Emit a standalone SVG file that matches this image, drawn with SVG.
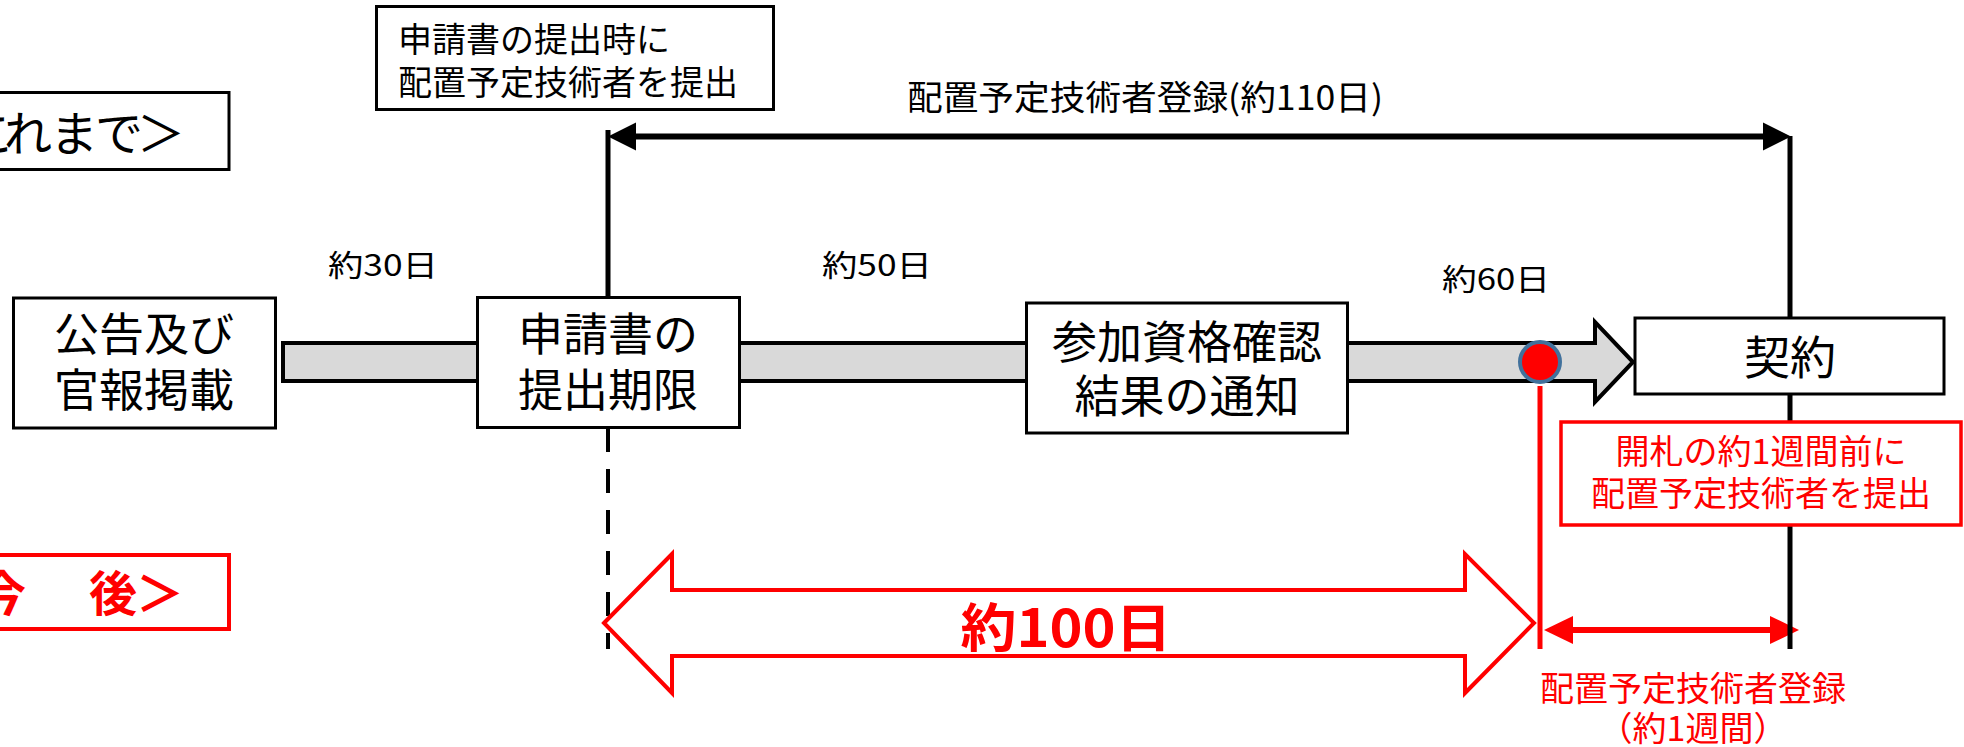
<svg xmlns="http://www.w3.org/2000/svg" width="1964" height="747" viewBox="0 0 1964 747">
<style>
text{font-family:"Noto Sans CJK JP","Noto Sans CJK SC",sans-serif;fill:#000}
.node{fill:#fff;stroke:#000;stroke-width:3}
.redbox{fill:#fff;stroke:#ff0000;stroke-width:3.5}
.big{font-size:45px}
.small{font-size:34px}
.lbl{font-size:30px}
.red{fill:#ff0000}
.bold{font-weight:bold}
.mid{text-anchor:middle}
</style>
<defs>
<marker id="ahB" markerUnits="userSpaceOnUse" markerWidth="30" markerHeight="30" viewBox="0 0 28 30" refX="16" refY="15" orient="auto-start-reverse">
<path d="M0,1 L28,15 L0,29 Z" fill="#000"/>
</marker>
<marker id="ahR" markerUnits="userSpaceOnUse" markerWidth="30" markerHeight="30" viewBox="0 0 29 30" refX="17" refY="15" orient="auto-start-reverse">
<path d="M0,1 L29,15 L0,29 Z" fill="#ff0000"/>
</marker>
</defs>

<g id="connectors">
<!-- main timeline band -->
<path id="band" d="M283,343 H1595 V322 L1633,362 L1595,402 V381 H283 Z" fill="#d9d9d9" stroke="#000" stroke-width="4"/>
<!-- top registration span -->
<path d="M608,130 V298" stroke="#000" stroke-width="5" fill="none"/>
<path d="M620,136.5 H1779" stroke="#000" stroke-width="6" fill="none" marker-start="url(#ahB)" marker-end="url(#ahB)"/>
<path d="M608,428 V649" stroke="#000" stroke-width="4" stroke-dasharray="24 17" fill="none"/>
<!-- red one-week span -->
<path d="M1540,386 V649" stroke="#ff0000" stroke-width="5" fill="none"/>
<path d="M1556,630 H1787" stroke="#ff0000" stroke-width="6" fill="none" marker-start="url(#ahR)" marker-end="url(#ahR)"/>
<path d="M1790,136 V649" stroke="#000" stroke-width="5" fill="none"/>
<!-- big red double arrow -->
<path d="M604,623 L672,554 V590 H1465 V554 L1534,623 L1465,693 V656 H672 V693 Z" fill="#fff" stroke="#ff0000" stroke-width="4" stroke-linejoin="miter"/>
</g>

<g id="label-top">
<text class="small" x="907" y="110" textLength="476" lengthAdjust="spacingAndGlyphs">配置予定技術者登録(約110日)</text>
</g>
<g id="label-30">
<text class="lbl mid" x="383" y="276" textLength="110" lengthAdjust="spacingAndGlyphs">約30日</text>
</g>
<g id="label-50">
<text class="lbl mid" x="877" y="276" textLength="110" lengthAdjust="spacingAndGlyphs">約50日</text>
</g>
<g id="label-60">
<text class="lbl mid" x="1496" y="290" textLength="108" lengthAdjust="spacingAndGlyphs">約60日</text>
</g>
<g id="label-100">
<text class="red bold mid" style="font-size:52px" x="1066" y="647" textLength="211" lengthAdjust="spacingAndGlyphs">約100日</text>
</g>
<g id="label-1week">
<text class="small red mid" x="1693" y="701">配置予定技術者登録</text>
<text class="small red mid" x="1693" y="741">（約1週間）</text>
</g>

<g id="legend-before">
<rect class="node" x="-10" y="92.5" width="239" height="77"/>
<text style="font-size:48px" x="-80 -33 4 50 95 137" y="151">＜これまで＞</text>
</g>
<g id="legend-after">
<rect x="-10" y="555" width="239" height="74" fill="#fff" stroke="#ff0000" stroke-width="4"/>
<text class="red bold" style="font-size:48px" x="-70 -22 26 89 136" y="611">＜今　後＞</text>
</g>

<g id="note-top">
<rect class="node" x="376.5" y="6.5" width="397" height="103"/>
<text class="small" x="398" y="52">申請書の提出時に</text>
<text class="small" x="398" y="95">配置予定技術者を提出</text>
</g>

<g id="node-koukoku">
<rect class="node" x="13.5" y="298" width="262" height="130"/>
<text class="big mid" x="144" y="351">公告及び</text>
<text class="big mid" x="144" y="407">官報掲載</text>
</g>
<g id="node-shinsei">
<rect class="node" x="477.5" y="297.5" width="262" height="130"/>
<text class="big mid" x="608" y="351">申請書の</text>
<text class="big mid" x="608" y="407">提出期限</text>
</g>
<g id="node-sanka">
<rect class="node" x="1026.5" y="303" width="321" height="130"/>
<text class="big mid" x="1187" y="359">参加資格確認</text>
<text class="big mid" x="1187" y="413">結果の通知</text>
</g>
<g id="node-keiyaku">
<rect class="node" x="1635" y="318" width="309" height="76"/>
<text class="big mid" style="font-size:46px" x="1790" y="374">契約</text>
</g>
<g id="note-red">
<rect class="redbox" x="1561" y="422" width="400" height="103"/>
<text class="small red mid" x="1761" y="464">開札の約1週間前に</text>
<text class="small red mid" x="1761" y="506">配置予定技術者を提出</text>
</g>
<g id="marker-dot">
<circle cx="1540" cy="362" r="20" fill="#ff0000" stroke="#41719c" stroke-width="4"/>
</g>
</svg>
